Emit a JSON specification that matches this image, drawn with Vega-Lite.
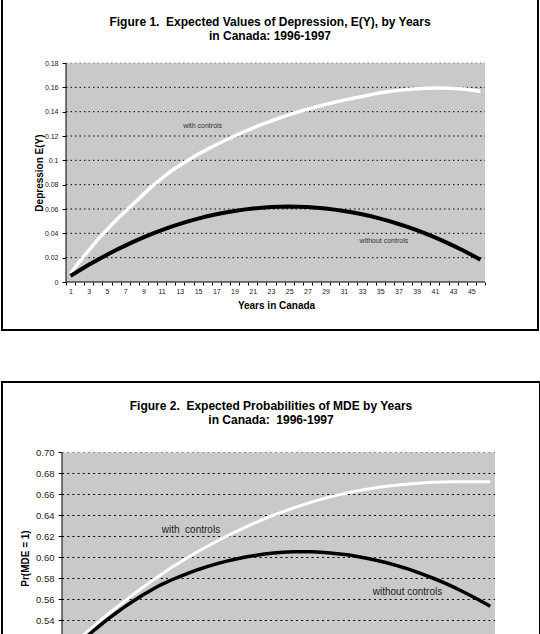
{
  "$schema": "https://vega.github.io/schema/vega-lite/v6.json",
  "background": "white",
  "padding": {"left": 1, "top": -4, "right": 0, "bottom": 0},
  "spacing": 50,
  "config": {
    "view": {"stroke": "#000", "strokeWidth": 2, "fill": "#fff"},
    "axis": {
      "grid": false, "domain": false,
      "labelFont": "Liberation Sans", "titleFont": "Liberation Sans",
      "tickColor": "#000", "labelColor": "#1a1a1a", "titleColor": "#000",
      "labelOverlap": false, "labelFlush": false, "labelBound": false
    },
    "title": {"font": "Liberation Sans", "fontWeight": "bold", "color": "#000", "anchor": "middle"},
    "text": {"font": "Liberation Sans"}
  },
  "datasets": {
    "fig1": [
      {"year": 1, "withControls": 0.007, "withoutControls": 0.0050},
      {"year": 2, "withControls": 0.017, "withoutControls": 0.0096},
      {"year": 3, "withControls": 0.026, "withoutControls": 0.0141},
      {"year": 4, "withControls": 0.035, "withoutControls": 0.0183},
      {"year": 5, "withControls": 0.043, "withoutControls": 0.0224},
      {"year": 6, "withControls": 0.051, "withoutControls": 0.0263},
      {"year": 7, "withControls": 0.058, "withoutControls": 0.0299},
      {"year": 8, "withControls": 0.065, "withoutControls": 0.0334},
      {"year": 9, "withControls": 0.072, "withoutControls": 0.0367},
      {"year": 10, "withControls": 0.079, "withoutControls": 0.0397},
      {"year": 11, "withControls": 0.085, "withoutControls": 0.0426},
      {"year": 12, "withControls": 0.091, "withoutControls": 0.0453},
      {"year": 13, "withControls": 0.096, "withoutControls": 0.0477},
      {"year": 14, "withControls": 0.1005, "withoutControls": 0.0500},
      {"year": 15, "withControls": 0.105, "withoutControls": 0.0521},
      {"year": 16, "withControls": 0.109, "withoutControls": 0.0540},
      {"year": 17, "withControls": 0.1128, "withoutControls": 0.0557},
      {"year": 18, "withControls": 0.1165, "withoutControls": 0.0571},
      {"year": 19, "withControls": 0.120, "withoutControls": 0.0584},
      {"year": 20, "withControls": 0.1233, "withoutControls": 0.0595},
      {"year": 21, "withControls": 0.1265, "withoutControls": 0.0604},
      {"year": 22, "withControls": 0.1295, "withoutControls": 0.0611},
      {"year": 23, "withControls": 0.1323, "withoutControls": 0.0616},
      {"year": 24, "withControls": 0.135, "withoutControls": 0.0619},
      {"year": 25, "withControls": 0.1375, "withoutControls": 0.0620},
      {"year": 26, "withControls": 0.1398, "withoutControls": 0.0619},
      {"year": 27, "withControls": 0.142, "withoutControls": 0.0616},
      {"year": 28, "withControls": 0.144, "withoutControls": 0.0611},
      {"year": 29, "withControls": 0.146, "withoutControls": 0.0604},
      {"year": 30, "withControls": 0.1478, "withoutControls": 0.0595},
      {"year": 31, "withControls": 0.1495, "withoutControls": 0.0584},
      {"year": 32, "withControls": 0.151, "withoutControls": 0.0571},
      {"year": 33, "withControls": 0.1525, "withoutControls": 0.0557},
      {"year": 34, "withControls": 0.154, "withoutControls": 0.0540},
      {"year": 35, "withControls": 0.1555, "withoutControls": 0.0521},
      {"year": 36, "withControls": 0.1566, "withoutControls": 0.0500},
      {"year": 37, "withControls": 0.1575, "withoutControls": 0.0477},
      {"year": 38, "withControls": 0.1582, "withoutControls": 0.0453},
      {"year": 39, "withControls": 0.1588, "withoutControls": 0.0426},
      {"year": 40, "withControls": 0.1592, "withoutControls": 0.0397},
      {"year": 41, "withControls": 0.1594, "withoutControls": 0.0367},
      {"year": 42, "withControls": 0.1594, "withoutControls": 0.0334},
      {"year": 43, "withControls": 0.1591, "withoutControls": 0.0299},
      {"year": 44, "withControls": 0.1586, "withoutControls": 0.0263},
      {"year": 45, "withControls": 0.1578, "withoutControls": 0.0224},
      {"year": 46, "withControls": 0.1566, "withoutControls": 0.0183}
    ],
    "fig2": [
      {"year": 1, "withControls": 0.513, "withoutControls": 0.508},
      {"year": 2, "withControls": 0.5205, "withoutControls": 0.516},
      {"year": 3, "withControls": 0.528, "withoutControls": 0.5238},
      {"year": 4, "withControls": 0.5355, "withoutControls": 0.5314},
      {"year": 5, "withControls": 0.5432, "withoutControls": 0.5386},
      {"year": 6, "withControls": 0.5505, "withoutControls": 0.5455},
      {"year": 7, "withControls": 0.5575, "withoutControls": 0.552},
      {"year": 8, "withControls": 0.5643, "withoutControls": 0.5581},
      {"year": 9, "withControls": 0.5709, "withoutControls": 0.5638},
      {"year": 10, "withControls": 0.5773, "withoutControls": 0.5691},
      {"year": 11, "withControls": 0.5835, "withoutControls": 0.574},
      {"year": 12, "withControls": 0.5897, "withoutControls": 0.5781},
      {"year": 13, "withControls": 0.5953, "withoutControls": 0.5818},
      {"year": 14, "withControls": 0.6007, "withoutControls": 0.5853},
      {"year": 15, "withControls": 0.6059, "withoutControls": 0.5886},
      {"year": 16, "withControls": 0.6109, "withoutControls": 0.5915},
      {"year": 17, "withControls": 0.6157, "withoutControls": 0.5942},
      {"year": 18, "withControls": 0.6203, "withoutControls": 0.5965},
      {"year": 19, "withControls": 0.6247, "withoutControls": 0.5986},
      {"year": 20, "withControls": 0.6289, "withoutControls": 0.6005},
      {"year": 21, "withControls": 0.6329, "withoutControls": 0.602},
      {"year": 22, "withControls": 0.6367, "withoutControls": 0.6033},
      {"year": 23, "withControls": 0.6403, "withoutControls": 0.6042},
      {"year": 24, "withControls": 0.6437, "withoutControls": 0.6049},
      {"year": 25, "withControls": 0.6469, "withoutControls": 0.6054},
      {"year": 26, "withControls": 0.6499, "withoutControls": 0.6055},
      {"year": 27, "withControls": 0.6527, "withoutControls": 0.6054},
      {"year": 28, "withControls": 0.6553, "withoutControls": 0.605},
      {"year": 29, "withControls": 0.6577, "withoutControls": 0.6043},
      {"year": 30, "withControls": 0.6599, "withoutControls": 0.6034},
      {"year": 31, "withControls": 0.6619, "withoutControls": 0.6023},
      {"year": 32, "withControls": 0.6637, "withoutControls": 0.6008},
      {"year": 33, "withControls": 0.6653, "withoutControls": 0.5991},
      {"year": 34, "withControls": 0.6667, "withoutControls": 0.5972},
      {"year": 35, "withControls": 0.6679, "withoutControls": 0.595},
      {"year": 36, "withControls": 0.6689, "withoutControls": 0.5925},
      {"year": 37, "withControls": 0.6698, "withoutControls": 0.5898},
      {"year": 38, "withControls": 0.6705, "withoutControls": 0.5868},
      {"year": 39, "withControls": 0.6711, "withoutControls": 0.5835},
      {"year": 40, "withControls": 0.6716, "withoutControls": 0.58},
      {"year": 41, "withControls": 0.6719, "withoutControls": 0.5763},
      {"year": 42, "withControls": 0.6721, "withoutControls": 0.5722},
      {"year": 43, "withControls": 0.6722, "withoutControls": 0.5679},
      {"year": 44, "withControls": 0.6722, "withoutControls": 0.5634},
      {"year": 45, "withControls": 0.6722, "withoutControls": 0.5586},
      {"year": 46, "withControls": 0.6721, "withoutControls": 0.5535}
    ],
    "grid1": [{"v": 0.02}, {"v": 0.04}, {"v": 0.06}, {"v": 0.08}, {"v": 0.1}, {"v": 0.12}, {"v": 0.14}, {"v": 0.16}],
    "grid2": [{"v": 0.52}, {"v": 0.54}, {"v": 0.56}, {"v": 0.58}, {"v": 0.6}, {"v": 0.62}, {"v": 0.64}, {"v": 0.66}, {"v": 0.68}]
  },
  "vconcat": [
    {
      "width": 536,
      "height": 333,
      "title": {
        "text": ["Figure 1.\u00a0 Expected Values of Depression, E(Y), by Years", "in Canada: 1996-1997"],
        "fontSize": 12, "lineHeight": 14, "offset": -46
      },
      "layer": [
        {
          "data": {"values": [{}]},
          "mark": {"type": "rect", "fill": "#c9c9c9"},
          "encoding": {
            "x": {
              "datum": 0.5, "type": "quantitative",
              "scale": {"domain": [-6.5263, 52.3186], "nice": false, "zero": false},
              "axis": {
                "orient": "bottom", "offset": -48, "tickCount": 100,
                "values": [0.5,1.5,2.5,3.5,4.5,5.5,6.5,7.5,8.5,9.5,10.5,11.5,12.5,13.5,14.5,15.5,16.5,17.5,18.5,19.5,20.5,21.5,22.5,23.5,24.5,25.5,26.5,27.5,28.5,29.5,30.5,31.5,32.5,33.5,34.5,35.5,36.5,37.5,38.5,39.5,40.5,41.5,42.5,43.5,44.5,45.5,46.5],
                "labelExpr": "datum.value + 0.5 <= 45 && (datum.value + 0.5) % 2 == 1 ? '' + (datum.value + 0.5) : ''",
                "labelOverlap": false, "labelFlush": false,
                "labelOffset": 4.554, "labelFontSize": 7, "labelPadding": 2, "tickSize": 3,
                "title": "Years in Canada", "titleFontSize": 10, "titleFontWeight": "bold",
                "titleBaseline": "middle", "titleX": 274, "titleY": 23.5
              }
            },
            "x2": {"datum": 46.5},
            "y": {
              "datum": 0, "type": "quantitative",
              "scale": {"domain": [-0.03945, 0.23425], "nice": false, "zero": false},
              "axis": {
                "orient": "left", "offset": -64, "tickCount": 100,
                "values": [0, 0.02, 0.04, 0.06, 0.08, 0.1, 0.12, 0.14, 0.16, 0.18],
                "labelOverlap": false, "labelFlush": false,
                "format": "~g", "labelFontSize": 7, "labelPadding": 4, "tickSize": 4,
                "title": "Depression E(Y)", "titleFontSize": 10, "titleFontWeight": "bold",
                "titleBaseline": "middle", "titleX": -27, "titleY": 175.5
              }
            },
            "y2": {"datum": 0.18}
          }
        },
        {
          "data": {"name": "grid1"},
          "mark": {"type": "rule", "stroke": "#000", "strokeWidth": 1, "strokeDash": [1.5, 3]},
          "encoding": {
            "y": {"field": "v", "type": "quantitative"},
            "x": {"datum": 0.5, "type": "quantitative"},
            "x2": {"datum": 46.5}
          }
        },
        {
          "data": {"values": [{}]},
          "mark": {"type": "rule", "stroke": "#8a8a8a", "strokeWidth": 1, "strokeDash": [1.5, 3]},
          "encoding": {
            "y": {"datum": 0.18, "type": "quantitative"},
            "x": {"datum": 0.5, "type": "quantitative"},
            "x2": {"datum": 46.5}
          }
        },
        {
          "data": {"values": [{}]},
          "mark": {"type": "rule", "stroke": "#000", "strokeWidth": 1},
          "encoding": {
            "x": {"datum": 0.5, "type": "quantitative"},
            "y": {"datum": 0, "type": "quantitative"},
            "y2": {"datum": 0.18}
          }
        },
        {
          "data": {"values": [{}]},
          "mark": {"type": "rule", "stroke": "#000", "strokeWidth": 1},
          "encoding": {
            "y": {"datum": 0, "type": "quantitative"},
            "x": {"datum": 0.5, "type": "quantitative"},
            "x2": {"datum": 46.5}
          }
        },
        {
          "data": {"name": "fig1"},
          "mark": {"type": "line", "stroke": "#fff", "strokeWidth": 3.5},
          "encoding": {
            "x": {"field": "year", "type": "quantitative"},
            "y": {"field": "withControls", "type": "quantitative"}
          }
        },
        {
          "data": {"name": "fig1"},
          "mark": {"type": "line", "stroke": "#000", "strokeWidth": 4},
          "encoding": {
            "x": {"field": "year", "type": "quantitative"},
            "y": {"field": "withoutControls", "type": "quantitative"}
          }
        },
        {
          "data": {"values": [{}]},
          "mark": {"type": "text", "text": "with controls", "fontSize": 7, "color": "#333"},
          "encoding": {
            "x": {"datum": 15.5, "type": "quantitative"},
            "y": {"datum": 0.128, "type": "quantitative"}
          }
        },
        {
          "data": {"values": [{}]},
          "mark": {"type": "text", "text": "without controls", "fontSize": 7, "color": "#333"},
          "encoding": {
            "x": {"datum": 35.4, "type": "quantitative"},
            "y": {"datum": 0.034, "type": "quantitative"}
          }
        }
      ]
    },
    {
      "width": 538,
      "height": 350,
      "title": {
        "text": ["Figure 2.\u00a0 Expected Probabilities of MDE by Years", "in Canada:\u00a0 1996-1997"],
        "fontSize": 12, "lineHeight": 14.5, "offset": -45
      },
      "layer": [
        {
          "data": {"values": [{}]},
          "mark": {"type": "rect", "fill": "#c9c9c9"},
          "encoding": {
            "x": {
              "datum": 0.5, "type": "quantitative",
              "scale": {"domain": [-5.874, 51.281], "nice": false, "zero": false},
              "axis": {
                "orient": "bottom", "offset": -69.5, "tickCount": 100,
                "values": [0.5,1.5,2.5,3.5,4.5,5.5,6.5,7.5,8.5,9.5,10.5,11.5,12.5,13.5,14.5,15.5,16.5,17.5,18.5,19.5,20.5,21.5,22.5,23.5,24.5,25.5,26.5,27.5,28.5,29.5,30.5,31.5,32.5,33.5,34.5,35.5,36.5,37.5,38.5,39.5,40.5,41.5,42.5,43.5,44.5,45.5,46.5],
                "labels": false, "tickSize": 3, "title": null
              }
            },
            "x2": {"datum": 46.5},
            "y": {
              "datum": 0.5, "type": "quantitative",
              "scale": {"domain": [0.43381, 0.76714], "nice": false, "zero": false},
              "axis": {
                "orient": "left", "offset": -60, "tickCount": 100,
                "values": [0.5, 0.52, 0.54, 0.56, 0.58, 0.6, 0.62, 0.64, 0.66, 0.68, 0.7],
                "labelOverlap": false, "labelFlush": false,
                "format": ".2f", "labelFontSize": 9.5, "labelPadding": 4, "tickSize": 4,
                "title": "Pr(MDE = 1)", "titleFontSize": 10, "titleFontWeight": "bold",
                "titleBaseline": "middle", "titleX": -37, "titleY": 176
              }
            },
            "y2": {"datum": 0.7}
          }
        },
        {
          "data": {"name": "grid2"},
          "mark": {"type": "rule", "stroke": "#000", "strokeWidth": 1, "strokeDash": [2, 3.2]},
          "encoding": {
            "y": {"field": "v", "type": "quantitative"},
            "x": {"datum": 0.5, "type": "quantitative"},
            "x2": {"datum": 46.5}
          }
        },
        {
          "data": {"values": [{}]},
          "mark": {"type": "rule", "stroke": "#8a8a8a", "strokeWidth": 1, "strokeDash": [2, 3.2]},
          "encoding": {
            "y": {"datum": 0.7, "type": "quantitative"},
            "x": {"datum": 0.5, "type": "quantitative"},
            "x2": {"datum": 46.5}
          }
        },
        {
          "data": {"values": [{}]},
          "mark": {"type": "rule", "stroke": "#000", "strokeWidth": 1},
          "encoding": {
            "x": {"datum": 0.5, "type": "quantitative"},
            "y": {"datum": 0.5, "type": "quantitative"},
            "y2": {"datum": 0.7}
          }
        },
        {
          "data": {"values": [{}]},
          "mark": {"type": "rule", "stroke": "#000", "strokeWidth": 1},
          "encoding": {
            "y": {"datum": 0.5, "type": "quantitative"},
            "x": {"datum": 0.5, "type": "quantitative"},
            "x2": {"datum": 46.5}
          }
        },
        {
          "data": {"name": "fig2"},
          "mark": {"type": "line", "stroke": "#fff", "strokeWidth": 3},
          "encoding": {
            "x": {"field": "year", "type": "quantitative"},
            "y": {"field": "withControls", "type": "quantitative"}
          }
        },
        {
          "data": {"name": "fig2"},
          "mark": {"type": "line", "stroke": "#000", "strokeWidth": 3.5},
          "encoding": {
            "x": {"field": "year", "type": "quantitative"},
            "y": {"field": "withoutControls", "type": "quantitative"}
          }
        },
        {
          "data": {"values": [{}]},
          "mark": {"type": "text", "text": "with\u00a0 controls", "fontSize": 10, "color": "#222"},
          "encoding": {
            "x": {"datum": 14.2, "type": "quantitative"},
            "y": {"datum": 0.6264, "type": "quantitative"}
          }
        },
        {
          "data": {"values": [{}]},
          "mark": {"type": "text", "text": "without controls", "fontSize": 10, "color": "#222"},
          "encoding": {
            "x": {"datum": 37.2, "type": "quantitative"},
            "y": {"datum": 0.5673, "type": "quantitative"}
          }
        }
      ]
    }
  ]
}
